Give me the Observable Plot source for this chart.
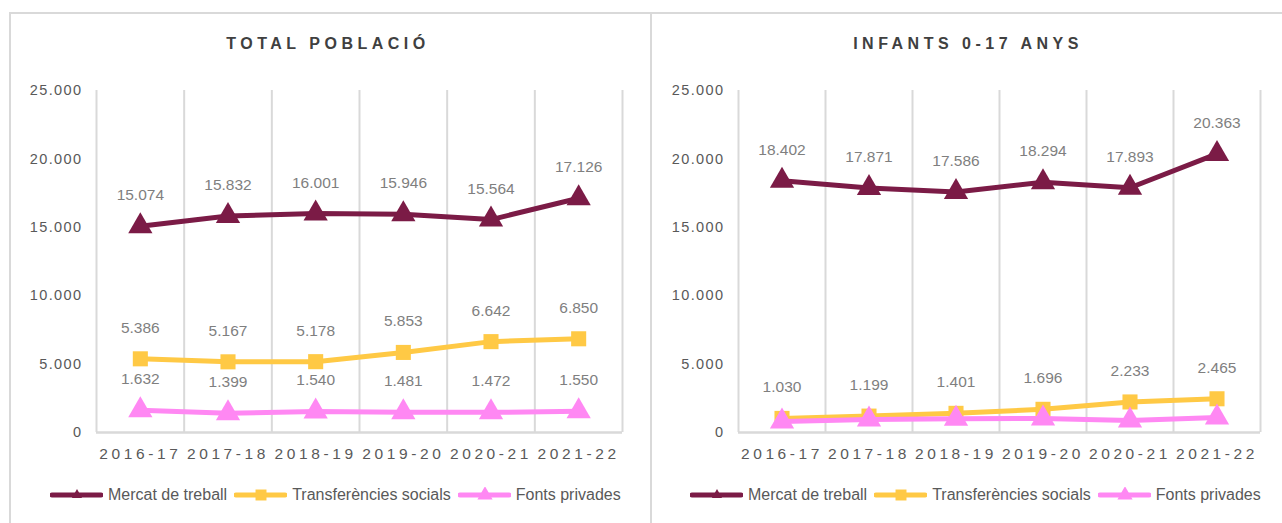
<!DOCTYPE html>
<html><head><meta charset="utf-8">
<script src="https://cdn.jsdelivr.net/npm/d3@7"></script>
<script src="https://cdn.jsdelivr.net/npm/@observablehq/plot@0.6"></script>
<style>
html,body{margin:0;padding:0;background:#fff;width:1282px;height:523px;overflow:hidden;font-family:"Liberation Sans",Arial,sans-serif;}
.frame{position:absolute;border-color:#d9d9d9;border-style:solid;border-width:0;box-sizing:border-box;}
.title{position:absolute;top:35px;font-weight:bold;font-size:16px;letter-spacing:4.5px;color:#404040;text-align:center;white-space:nowrap;}
.chart{position:absolute;top:60px;}
.chart g[aria-label="y-axis tick label"] text{font-size:14.5px;letter-spacing:1.4px;fill:#595959;}
.chart g[aria-label="x-axis tick label"] text{font-size:15.5px;letter-spacing:3.6px;fill:#595959;}
.legend{position:absolute;top:486px;display:flex;align-items:center;font-size:16px;color:#595959;white-space:nowrap;}
.legend .item{display:flex;align-items:center;margin-right:7px;}
.legend svg{margin-right:5px;}
</style>
</head><body>
<div class="frame" style="left:9px;top:12px;width:643px;height:520px;border-top-width:2.5px;border-left-width:2.5px;border-right-width:2.5px;"></div>
<div class="frame" style="left:650px;top:12px;width:632px;height:520px;border-top-width:2.5px;"></div>
<div class="title" style="left:120px;width:408px;padding-left:4px;">TOTAL POBLACIÓ</div>
<div class="title" style="left:760px;width:408px;padding-left:4px;">INFANTS 0-17 ANYS</div>
<div id="c1" class="chart" style="left:0px;"></div>
<div id="c2" class="chart" style="left:650px;"></div>
<div id="l1" class="legend" style="left:50px;"></div>
<div id="l2" class="legend" style="left:690px;"></div>
<script>
const periods = ["2016-17","2017-18","2018-19","2019-20","2020-21","2021-22"];
const seriesNames = ["Mercat de treball","Transferències socials","Fonts privades"];
const seriesColors = ["#7b1b46","#ffc945","#ff88f3"];
const seriesSymbols = ["triangle","square","triangle"];
// Total població
const totalMercat = [15074,15832,16001,15946,15564,17126];
const totalTransf = [5386,5167,5178,5853,6642,6850];
const totalFonts  = [1632,1399,1540,1481,1472,1550];
// Infants 0-17 anys
const infMercat = [18402,17871,17586,18294,17893,20363];
const infTransf = [1030,1199,1401,1696,2233,2465];
const infFonts  = [806,950,1010,1020,880,1100]; // unlabelled, estimated
const yTicks = [0,5000,10000,15000,20000,25000];

const fmt = v => d3.format(",")(v).replace(/,/g,".");

function rows(arr){ return periods.map((p,i)=>({i:i+0.5, p, v:arr[i]})); }

function chart(series, labelled, width, mLeft, mRight){
  const marks = [
    Plot.ruleX(d3.range(periods.length+1), {stroke:"#d9d9d9", strokeWidth:2, y1:0, y2:25000}),
    Plot.ruleY([0], {stroke:"#d9d9d9", strokeWidth:2.5}),
    Plot.axisY(yTicks, {tickSize:0, tickPadding:14, tickFormat:fmt, label:null}),
    Plot.axisX(d3.range(periods.length).map(i=>i+0.5), {tickSize:0, tickPadding:15, tickFormat:d=>periods[Math.floor(d)], label:null})
  ];
  series.forEach((arr,k)=>{
    const data = rows(arr);
    marks.push(Plot.line(data, {x:"i", y:"v", stroke:seriesColors[k], strokeWidth:5, strokeLinejoin:"round"}));
    marks.push(Plot.dot(data, {x:"i", y:"v", symbol:seriesSymbols[k], fill:seriesColors[k], r: seriesSymbols[k]==="square"?8.5:9}));
  });
  series.forEach((arr,k)=>{
    if(!labelled[k]) return;
    marks.push(Plot.text(rows(arr), {x:"i", y:"v", text:d=>fmt(d.v), dy:-31, fill:"#7f7f7f", fontSize:15.5}));
  });
  return Plot.plot({
    width, height:410, marginLeft:mLeft, marginRight:mRight, marginTop:30, marginBottom:38,
    x:{type:"linear", domain:[0,periods.length], axis:null},
    y:{domain:[0,25000], axis:null},
    style:{background:"transparent", fontFamily:"Liberation Sans, Arial, sans-serif", fontSize:"15px", color:"#595959", overflow:"visible"},
    marks
  });
}

document.getElementById("c1").append(chart([totalMercat,totalTransf,totalFonts],[true,true,true],650,96,28));
document.getElementById("c2").append(chart([infMercat,infTransf,infFonts],[true,true,false],632,88,22));

function legend(el){
  seriesNames.forEach((name,k)=>{
    const item = document.createElement("div"); item.className="item";
    const ns="http://www.w3.org/2000/svg";
    const svg=document.createElementNS(ns,"svg"); svg.setAttribute("width","53"); svg.setAttribute("height","16");
    const line=document.createElementNS(ns,"line");
    line.setAttribute("x1","2");line.setAttribute("x2","51");line.setAttribute("y1","8");line.setAttribute("y2","8");
    line.setAttribute("stroke",seriesColors[k]);line.setAttribute("stroke-width","5");line.setAttribute("stroke-linecap","round");
    svg.appendChild(line);
    const sym = seriesSymbols[k]==="square" ? d3.symbolSquare : d3.symbolTriangle;
    const size = seriesSymbols[k]==="square" ? 120 : (k===0?45:100);
    const p=document.createElementNS(ns,"path");
    p.setAttribute("d", d3.symbol(sym,size)()); p.setAttribute("transform","translate(27,8)"); p.setAttribute("fill",seriesColors[k]);
    svg.appendChild(p);
    item.appendChild(svg);
    const t=document.createElement("span"); t.textContent=name; item.appendChild(t);
    el.appendChild(item);
  });
}
legend(document.getElementById("l1"));
legend(document.getElementById("l2"));
</script>
</body></html>
